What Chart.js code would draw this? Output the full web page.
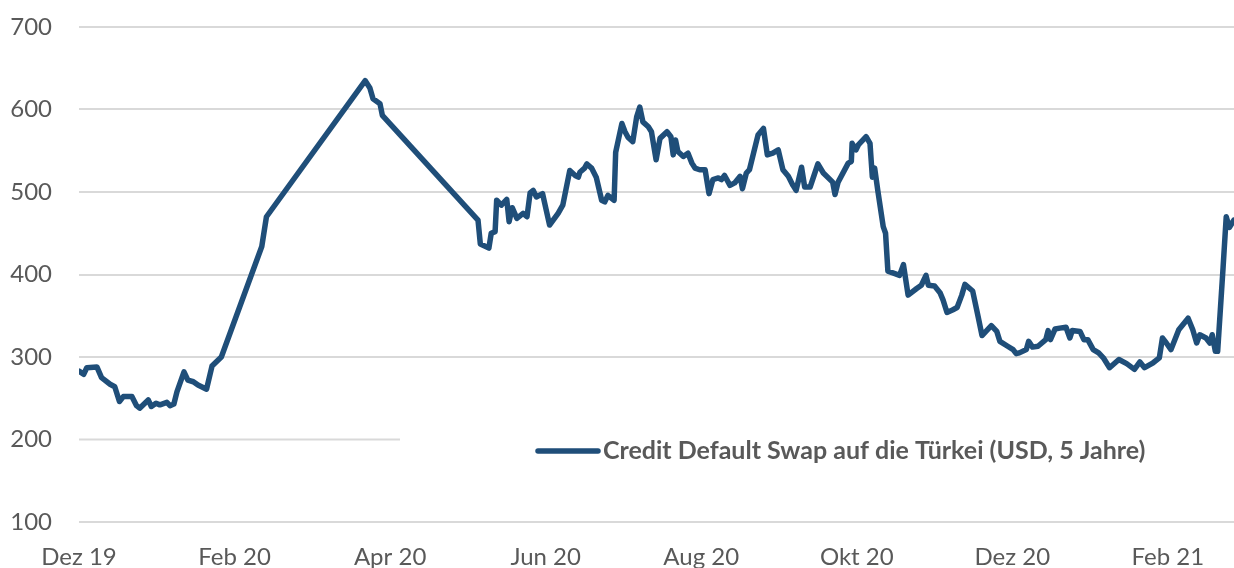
<!DOCTYPE html>
<html lang="de">
<head>
<meta charset="utf-8">
<title>CDS Türkei</title>
<script src="https://cdn.jsdelivr.net/npm/chart.js@4.4.1/dist/chart.umd.min.js"></script>
<style>
  html, body { margin: 0; padding: 0; background: #fff; }
  #wrap { width: 1234px; height: 568px; position: relative; }
</style>
</head>
<body>
<div id="wrap"><canvas id="cdsChart"></canvas></div>
<script>
// ------------------------------------------------------------
// Data
// x = months since 1 Dec 2019, y = CDS spread in bp
// ------------------------------------------------------------
const tickMonths = [0, 2, 4, 6, 8, 10, 12, 14];
const tickLabels = ['Dez 19', 'Feb 20', 'Apr 20', 'Jun 20', 'Aug 20', 'Okt 20', 'Dez 20', 'Feb 21'];
const seriesLabel = 'Credit Default Swap auf die Türkei (USD, 5 Jahre)';

const monthPos = [
  0.00, 0.06, 0.10, 0.23, 0.29, 0.40, 0.46, 0.52, 0.57, 0.68,
  0.74, 0.78, 0.89, 0.93, 0.99, 1.04, 1.13, 1.17, 1.22, 1.26,
  1.35, 1.40, 1.47, 1.53, 1.64, 1.71, 1.83, 2.35, 2.41, 3.68,
  3.74, 3.78, 3.87, 3.90, 5.13, 5.16, 5.27, 5.30, 5.35, 5.37,
  5.43, 5.50, 5.53, 5.57, 5.63, 5.71, 5.76, 5.80, 5.84, 5.88,
  5.96, 6.05, 6.16, 6.22, 6.31, 6.38, 6.42, 6.44, 6.50, 6.53,
  6.59, 6.65, 6.72, 6.76, 6.80, 6.88, 6.90, 6.98, 7.02, 7.06,
  7.12, 7.17, 7.21, 7.25, 7.32, 7.36, 7.42, 7.47, 7.56, 7.61,
  7.64, 7.67, 7.70, 7.77, 7.83, 7.88, 7.92, 7.98, 8.05, 8.10,
  8.15, 8.22, 8.26, 8.30, 8.37, 8.43, 8.50, 8.53, 8.58, 8.62,
  8.73, 8.80, 8.85, 8.92, 8.99, 9.05, 9.12, 9.18, 9.22, 9.29,
  9.33, 9.40, 9.45, 9.50, 9.57, 9.69, 9.72, 9.76, 9.89, 9.93,
  9.94, 9.99, 10.02, 10.12, 10.17, 10.20, 10.23, 10.27, 10.34, 10.37,
  10.40, 10.49, 10.55, 10.60, 10.66, 10.77, 10.83, 10.89, 10.92, 11.00,
  11.07, 11.11, 11.16, 11.23, 11.29, 11.35, 11.39, 11.49, 11.56, 11.61,
  11.73, 11.80, 11.84, 11.94, 12.01, 12.05, 12.09, 12.18, 12.21, 12.26,
  12.33, 12.43, 12.46, 12.49, 12.55, 12.61, 12.69, 12.74, 12.77, 12.87,
  12.92, 12.97, 13.04, 13.11, 13.17, 13.25, 13.37, 13.47, 13.57, 13.64,
  13.70, 13.81, 13.89, 13.93, 13.98, 14.04, 14.14, 14.26, 14.32, 14.37,
  14.41, 14.49, 14.54, 14.57, 14.61, 14.64, 14.71, 14.75, 14.79, 14.85
];

const cdsValues = [
  283, 279, 287, 288, 275, 267, 264, 246, 252, 252,
  241, 238, 248, 240, 244, 242, 245, 241, 243, 258,
  282, 272, 270, 266, 261, 289, 300, 434, 470, 635,
  626, 613, 607, 593, 466, 437, 432, 450, 452, 490,
  484, 491, 464, 481, 468, 474, 470, 499, 502, 494,
  498, 460, 474, 484, 526, 520, 518, 524, 529, 534,
  529, 518, 490, 488, 496, 490, 548, 583, 573, 566,
  561, 591, 603, 585, 579, 573, 539, 565, 573, 567,
  545, 563, 549, 543, 547, 535, 529, 527, 527, 498,
  515, 517, 515, 520, 508, 511, 519, 504, 523, 527,
  569, 577, 545, 547, 551, 527, 519, 508, 502, 530,
  506, 506, 520, 534, 523, 512, 497, 512, 535, 537,
  559, 551, 557, 567, 559, 518, 529, 502, 458, 450,
  404, 401, 399, 412, 375, 383, 387, 399, 387, 386,
  378, 369, 354, 357, 360, 375, 388, 380, 349, 326,
  338, 331, 319, 313, 309, 304, 305, 309, 319, 312,
  313, 321, 332, 321, 334, 335, 336, 323, 332, 331,
  321, 321, 309, 305, 299, 287, 297, 292, 285, 294,
  287, 293, 299, 323, 317, 309, 333, 347, 333, 317,
  327, 323, 317, 327, 307, 307, 409, 470, 457, 466
];

// ------------------------------------------------------------
// Styling
// ------------------------------------------------------------
const LINE_COLOR = '#1f4e79';
const TEXT_COLOR = '#595959';
const GRID_COLOR = '#d9d9d9';
const FONT = 'Lato, "Open Sans", sans-serif';

// Legend sits inside the plot on a white box that hides
// the 200 gridline from boxLeft to the right edge
const LEGEND = { boxLeft: 400, lineX: 538, lineLen: 60, y: 451, textX: 603 };

const legendPlugin = {
  id: 'insideLegend',
  beforeDatasetsDraw(chart) {
    // the 200 gridline only shows left of the legend box
    const { ctx, chartArea, scales } = chart;
    const y = scales.y.getPixelForValue(200);
    ctx.save();
    ctx.strokeStyle = GRID_COLOR;
    ctx.lineWidth = 2;
    ctx.beginPath();
    ctx.moveTo(chartArea.left, y);
    ctx.lineTo(LEGEND.boxLeft, y);
    ctx.stroke();
    ctx.restore();
  },
  afterDraw(chart) {
    const ctx = chart.ctx;
    ctx.save();
    ctx.strokeStyle = LINE_COLOR;
    ctx.lineWidth = 5.5;
    ctx.lineCap = 'round';
    ctx.beginPath();
    ctx.moveTo(LEGEND.lineX, LEGEND.y);
    ctx.lineTo(LEGEND.lineX + LEGEND.lineLen, LEGEND.y);
    ctx.stroke();
    ctx.fillStyle = TEXT_COLOR;
    ctx.font = 'bold 25px ' + FONT;
    ctx.textBaseline = 'middle';
    ctx.fillText(seriesLabel, LEGEND.textX, LEGEND.y);
    ctx.restore();
  }
};

new Chart(document.getElementById('cdsChart'), {
  type: 'line',
  data: {
    datasets: [{
      label: seriesLabel,
      data: monthPos.map((m, i) => ({ x: m, y: cdsValues[i] })),
      borderColor: LINE_COLOR,
      borderWidth: 5.5,
      borderJoinStyle: 'round',
      borderCapStyle: 'round',
      pointRadius: 0,
      tension: 0,
      fill: false
    }]
  },
  options: {
    responsive: true,
    maintainAspectRatio: false,
    animation: false,
    layout: { padding: { top: 27, right: 0, bottom: 0, left: 0 } },
    plugins: {
      legend: { display: false },
      tooltip: { enabled: false }
    },
    scales: {
      x: {
        type: 'linear',
        min: 0,
        max: 14.85,
        afterBuildTicks: s => { s.ticks = tickMonths.map(v => ({ value: v })); },
        afterFit: s => { s.height = 46; },
        grid: { display: false, drawTicks: false },
        border: { display: false },
        ticks: {
          autoSkip: false,
          maxRotation: 0,
          padding: 21,
          color: TEXT_COLOR,
          font: { family: FONT, size: 24 },
          callback: (v, i) => tickLabels[i]
        }
      },
      y: {
        min: 100,
        max: 700,
        // fixed axis width; drop the extra top/bottom padding the tick padding adds
        afterFit: s => { s.width = 79; s.paddingTop = 0; s.paddingBottom = 0; },
        grid: {
          drawTicks: false,
          lineWidth: 2,
          color: c => (c.tick && c.tick.value === 200) ? 'rgba(0,0,0,0)' : GRID_COLOR
        },
        border: { display: false },
        ticks: {
          stepSize: 100,
          padding: 27,
          color: TEXT_COLOR,
          font: { family: FONT, size: 24 }
        }
      }
    }
  },
  plugins: [legendPlugin]
});
</script>
</body>
</html>
